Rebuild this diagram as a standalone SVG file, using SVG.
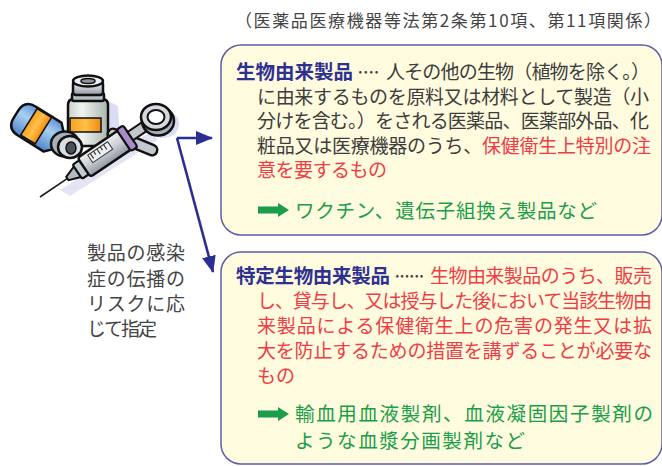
<svg xmlns="http://www.w3.org/2000/svg" width="662" height="466" viewBox="0 0 662 466">
  <style>
    text { font-family: "Noto Sans CJK JP", "Noto Sans", sans-serif; }
    .title { font-size: 17px; fill: #444; }
    .body { font-size: 19px; fill: #3d3d3d; }
    .head { font-size: 19.5px; font-weight: 700; fill: #2e3192; }
    .red { fill: #ee3d45; }
    .green { font-size: 19.5px; fill: #1a9e4a; }
    .note { font-size: 19px; fill: #444; }
    .box { fill: #fffbdf; stroke: #5d5fa8; stroke-width: 1.5; }
    .ink { stroke: #111; stroke-width: 2.5; stroke-linejoin: round; }
    .conn { fill: none; stroke: #2b2f93; stroke-width: 2.6; }
  </style>
  <defs>
    <marker id="arrow" markerUnits="userSpaceOnUse" markerWidth="17" markerHeight="14" refX="16" refY="7" orient="auto">
      <path d="M0,0 L17,7 L0,14 Z" fill="#2b2f93"/>
    </marker>
    <path id="greenArrow" d="M0,-3.5 H20 V-7 L31,0 L20,7 V3.5 H0 Z" fill="#1a9e4a"/>
    <linearGradient id="glass" x1="0" y1="0" x2="1" y2="0">
      <stop offset="0" stop-color="#c9d1cb"/>
      <stop offset="0.35" stop-color="#f1f4f0"/>
      <stop offset="1" stop-color="#aab4ad"/>
    </linearGradient>
    <linearGradient id="blueGlass" x1="0" y1="0" x2="0" y2="1">
      <stop offset="0" stop-color="#5f93d6"/>
      <stop offset="0.4" stop-color="#a9d0f2"/>
      <stop offset="1" stop-color="#4f82c8"/>
    </linearGradient>
    <linearGradient id="orange" x1="0" y1="0" x2="1" y2="0">
      <stop offset="0" stop-color="#f7a21c"/>
      <stop offset="0.5" stop-color="#ffc04a"/>
      <stop offset="1" stop-color="#ee8a10"/>
    </linearGradient>
    <linearGradient id="metal" x1="0" y1="0" x2="0" y2="1">
      <stop offset="0" stop-color="#f0f1f3"/>
      <stop offset="0.5" stop-color="#c9cdd3"/>
      <stop offset="1" stop-color="#8f96a0"/>
    </linearGradient>
  </defs>

  <!-- legal reference heading -->
  <text class="title" x="235" y="27" textLength="426">（医薬品医療機器等法第2条第10項、第11項関係）</text>

  <!-- clip-art: vials and syringe -->
  <g id="illustration">
    <!-- soft lavender shadow -->
    <path d="M106,100 L118,106 L120,142 L108,148 Z" fill="#dcdcf2"/>
    <ellipse cx="163" cy="124" rx="16" ry="14" fill="#dcdcf2"/>
    <path d="M60,190 L150,132 L158,140 L70,196 Z" fill="#e4e4f4"/>

    <!-- standing vial -->
    <g id="vial-standing">
      <path class="ink" d="M68,105 Q68,99 74,99 H102 Q108,99 108,105 V138 Q108,146 100,146 H76 Q68,146 68,138 Z" fill="url(#glass)"/>
      <rect x="70" y="118" width="31" height="14" fill="url(#orange)" stroke="#111" stroke-width="1.5"/>
      <rect class="ink" x="72" y="93" width="32" height="8" rx="2" fill="#b7bcc2"/>
      <rect class="ink" x="73" y="81" width="30" height="14" rx="3" fill="url(#metal)"/>
      <ellipse class="ink" cx="88" cy="81" rx="15" ry="5.5" fill="#eceef0"/>
      <ellipse cx="88" cy="81" rx="7" ry="2.5" fill="#8d949c" stroke="#111" stroke-width="1.5"/>
    </g>

    <!-- lying blue vial -->
    <g id="vial-blue" transform="translate(38,128) rotate(32)">
      <path class="ink" d="M-13,-17 H17 L25,-9 V9 L17,17 H-13 Q-26,17 -26,4 V-4 Q-26,-17 -13,-17 Z" fill="url(#blueGlass)"/>
      <path d="M-11,-16 H6 V15 H-11 Z" fill="url(#orange)" stroke="#111" stroke-width="1.5"/>
    </g>

    <!-- rubber stopper ring -->
    <g id="stopper">
      <ellipse class="ink" cx="65" cy="144" rx="14" ry="12.5" fill="#aab0b9"/>
      <ellipse class="ink" cx="70" cy="147" rx="12" ry="11" fill="#d9dce1"/>
      <ellipse cx="71" cy="148" rx="5" ry="6" fill="#4a4f5a" stroke="#111" stroke-width="1.5"/>
    </g>

    <!-- syringe -->
    <g id="syringe">
      <path d="M113,134 L152,150" stroke="#111" stroke-width="13" stroke-linecap="round"/>
      <path d="M113,134 L152,150" stroke="#c4c8cf" stroke-width="8" stroke-linecap="round"/>
      <g transform="translate(40,197) rotate(-34)">
        <line x1="0" y1="0" x2="35" y2="0" stroke="#1a1a1a" stroke-width="1.6"/>
        <path d="M33,-2 L47,-7 V7 L33,2 Z" fill="#b4b9c1" stroke="#111" stroke-width="2"/>
        <rect x="45" y="-8.5" width="9" height="17" rx="2" fill="#c6cad1" stroke="#111" stroke-width="2.2"/>
        <rect class="ink" x="53" y="-11.5" width="50" height="23" rx="3" fill="url(#metal)"/>
        <rect x="63" y="-8" width="24" height="9" fill="#eceef0" stroke="#333" stroke-width="1"/>
        <path d="M66,-8 v6 M70,-8 v4 M74,-8 v6 M78,-8 v4 M82,-8 v6" stroke="#333" stroke-width="1.2"/>
        <rect x="101" y="-13" width="8" height="26" rx="2.5" fill="#a68bc8" stroke="#111" stroke-width="2.2"/>
        <rect x="109" y="-5" width="22" height="10" fill="#c2c6cd" stroke="#111" stroke-width="2"/>
      </g>
      <ellipse class="ink" cx="158" cy="121" rx="16" ry="14.5" fill="#a9aeb8"/>
      <ellipse class="ink" cx="156" cy="117" rx="15" ry="13" fill="#d5d8dd"/>
      <ellipse cx="156" cy="117" rx="8.5" ry="7" fill="#ffffff" stroke="#111" stroke-width="2"/>
    </g>
  </g>

  <!-- side note -->
  <g id="note">
    <text class="note" x="87" y="260" textLength="98">製品の感染</text>
    <text class="note" x="87" y="286" textLength="98">症の伝播の</text>
    <text class="note" x="87" y="311" textLength="98">リスクに応</text>
    <text class="note" x="87" y="336" textLength="70">じて指定</text>
  </g>

  <!-- connectors -->
  <g id="connectors">
    <path class="conn" d="M177,138 H212" marker-end="url(#arrow)"/>
    <path class="conn" d="M177,138 L213,272" marker-end="url(#arrow)"/>
  </g>

  <!-- biological products -->
  <g id="box-biological">
    <rect class="box" x="221" y="45" width="441" height="190" rx="20"/>
    <text class="head" x="236" y="79" textLength="117">生物由来製品</text>
    <text class="body" x="355" y="79" textLength="27">····</text>
    <text class="body" x="386" y="79" textLength="264">人その他の生物（植物を除く。）</text>
    <text class="body" x="257" y="103.5" textLength="392">に由来するものを原料又は材料として製造（小</text>
    <text class="body" x="257" y="128" textLength="392">分けを含む。）をされる医薬品、医薬部外品、化</text>
    <text class="body" x="257" y="152.5" textLength="394">粧品又は医療機器のうち、<tspan class="red">保健衛生上特別の注</tspan></text>
    <text class="body red" x="257" y="177" textLength="130">意を要するもの</text>
    <use href="#greenArrow" x="258" y="210"/>
    <text class="green" x="295" y="217.5" textLength="302">ワクチン、遺伝子組換え製品など</text>
  </g>

  <!-- specified biological products -->
  <g id="box-specified">
    <rect class="box" x="221" y="252" width="441" height="212" rx="20"/>
    <text class="head" x="236" y="283" textLength="154">特定生物由来製品</text>
    <text class="body" x="392" y="283" textLength="35">······</text>
    <text class="body red" x="430" y="283" textLength="222">生物由来製品のうち、販売</text>
    <text class="body red" x="257" y="308" textLength="395">し、貸与し、又は授与した後において当該生物由</text>
    <text class="body red" x="257" y="333" textLength="395">来製品による保健衛生上の危害の発生又は拡</text>
    <text class="body red" x="257" y="358" textLength="395">大を防止するための措置を講ずることが必要な</text>
    <text class="body red" x="257" y="383">もの</text>
    <use href="#greenArrow" x="258" y="414"/>
    <text class="green" x="295" y="421" textLength="358">輸血用血液製剤、血液凝固因子製剤の</text>
    <text class="green" x="295" y="447.5" textLength="230">ような血漿分画製剤など</text>
  </g>
</svg>
